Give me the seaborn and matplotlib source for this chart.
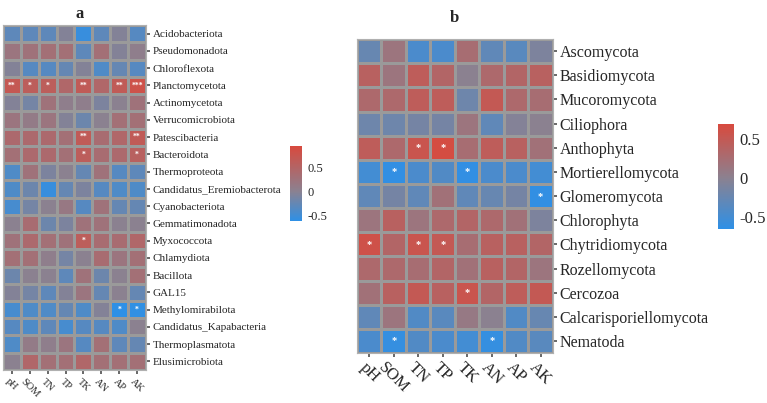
#Heatmaps de correlação: bactérias (a) e fungos/eucariotos (b) x variáveis do solo

#Imports
import numpy as np
import pandas as pd
import matplotlib
matplotlib.use('Agg')
import matplotlib.pyplot as plt
import seaborn as sns
from matplotlib.colors import LinearSegmentedColormap

#Dados
variaveis = ['pH', 'SOM', 'TN', 'TP', 'TK', 'AN', 'AP', 'AK']

bacterias = ['Acidobacteriota', 'Pseudomonadota', 'Chloroflexota', 'Planctomycetota',
             'Actinomycetota', 'Verrucomicrobiota', 'Patescibacteria', 'Bacteroidota',
             'Thermoproteota', 'Candidatus_Eremiobacterota', 'Cyanobacteriota',
             'Gemmatimonadota', 'Myxococcota', 'Chlamydiota', 'Bacillota', 'GAL15',
             'Methylomirabilota', 'Candidatus_Kapabacteria', 'Thermoplasmatota',
             'Elusimicrobiota']

corr_a = [
    [-0.30, -0.30, -0.30, -0.05, -0.55, -0.30, -0.05, -0.35],
    [ 0.20,  0.25,  0.30,  0.30, -0.30,  0.30, -0.05,  0.05],
    [-0.05, -0.35, -0.35, -0.25, -0.05, -0.40, -0.25, -0.35],
    [ 0.70,  0.60,  0.60,  0.45,  0.65,  0.45,  0.65,  0.80],
    [-0.05, -0.15,  0.25,  0.05,  0.05, -0.10,  0.00,  0.25],
    [ 0.20,  0.10,  0.20, -0.05, -0.20,  0.00,  0.30,  0.30],
    [ 0.40,  0.40,  0.40,  0.30,  0.65,  0.35,  0.45,  0.65],
    [ 0.30,  0.40,  0.40,  0.30,  0.60,  0.35,  0.40,  0.55],
    [-0.40,  0.25, -0.10,  0.00, -0.25,  0.25, -0.35, -0.30],
    [-0.40, -0.20, -0.55, -0.25, -0.10, -0.35, -0.40, -0.40],
    [-0.45, -0.15,  0.00,  0.15, -0.35,  0.25, -0.25, -0.25],
    [ 0.00,  0.35, -0.20, -0.10,  0.25,  0.25,  0.00,  0.00],
    [ 0.25,  0.40,  0.30,  0.25,  0.60,  0.35,  0.35,  0.45],
    [ 0.30,  0.30,  0.05, -0.15,  0.00,  0.35,  0.20,  0.30],
    [-0.20,  0.00,  0.00, -0.30,  0.25, -0.20,  0.00,  0.30],
    [-0.05, -0.15, -0.30, -0.05,  0.20, -0.25,  0.00, -0.25],
    [-0.45, -0.40, -0.40, -0.25, -0.40, -0.05, -0.62, -0.60],
    [-0.35, -0.40, -0.30, -0.45, -0.35, -0.35, -0.40,  0.00],
    [-0.40,  0.10,  0.05,  0.20, -0.35,  0.30, -0.30, -0.25],
    [ 0.00,  0.45,  0.30,  0.30,  0.45,  0.30,  0.30,  0.30],
]

sig_a = [
    ['', '', '', '', '', '', '', ''],
    ['', '', '', '', '', '', '', ''],
    ['', '', '', '', '', '', '', ''],
    ['**', '*', '*', '', '**', '', '**', '***'],
    ['', '', '', '', '', '', '', ''],
    ['', '', '', '', '', '', '', ''],
    ['', '', '', '', '**', '', '', '**'],
    ['', '', '', '', '*', '', '', '*'],
    ['', '', '', '', '', '', '', ''],
    ['', '', '', '', '', '', '', ''],
    ['', '', '', '', '', '', '', ''],
    ['', '', '', '', '', '', '', ''],
    ['', '', '', '', '*', '', '', ''],
    ['', '', '', '', '', '', '', ''],
    ['', '', '', '', '', '', '', ''],
    ['', '', '', '', '', '', '', ''],
    ['', '', '', '', '', '', '*', '*'],
    ['', '', '', '', '', '', '', ''],
    ['', '', '', '', '', '', '', ''],
    ['', '', '', '', '', '', '', ''],
]

fungos = ['Ascomycota', 'Basidiomycota', 'Mucoromycota', 'Ciliophora', 'Anthophyta',
          'Mortierellomycota', 'Glomeromycota', 'Chlorophyta', 'Chytridiomycota',
          'Rozellomycota', 'Cercozoa', 'Calcarisporiellomycota', 'Nematoda']

corr_b = [
    [-0.25,  0.15, -0.45, -0.45,  0.25, -0.30, -0.35, -0.10],
    [ 0.40,  0.15,  0.45,  0.35,  0.00,  0.30,  0.35,  0.40],
    [ 0.30,  0.30,  0.45,  0.45, -0.20,  0.50,  0.30,  0.25],
    [-0.20, -0.20, -0.15, -0.15,  0.15, -0.30, -0.05,  0.00],
    [ 0.45,  0.30,  0.55,  0.65,  0.25,  0.45,  0.40,  0.20],
    [-0.50, -0.62, -0.45, -0.40, -0.62, -0.45, -0.45, -0.50],
    [-0.30, -0.15, -0.30,  0.20, -0.30, -0.25, -0.15, -0.62],
    [ 0.15,  0.40,  0.15,  0.30,  0.35,  0.30,  0.20, -0.10],
    [ 0.60,  0.35,  0.55,  0.50,  0.25,  0.40,  0.40,  0.35],
    [ 0.30,  0.30,  0.25,  0.35,  0.20,  0.40,  0.35,  0.15],
    [ 0.20,  0.40,  0.50,  0.40,  0.55,  0.35,  0.45,  0.50],
    [-0.30,  0.15, -0.40, -0.35,  0.10,  0.00, -0.40, -0.25],
    [-0.45, -0.60, -0.40, -0.45, -0.50, -0.60, -0.40, -0.35],
]

sig_b = [
    ['', '', '', '', '', '', '', ''],
    ['', '', '', '', '', '', '', ''],
    ['', '', '', '', '', '', '', ''],
    ['', '', '', '', '', '', '', ''],
    ['', '', '*', '*', '', '', '', ''],
    ['', '*', '', '', '*', '', '', ''],
    ['', '', '', '', '', '', '', '*'],
    ['', '', '', '', '', '', '', ''],
    ['*', '', '*', '*', '', '', '', ''],
    ['', '', '', '', '', '', '', ''],
    ['', '', '', '', '*', '', '', ''],
    ['', '', '', '', '', '', '', ''],
    ['', '*', '', '', '', '*', '', ''],
]

df_a = pd.DataFrame(corr_a, index = bacterias, columns = variaveis)
df_b = pd.DataFrame(corr_b, index = fungos, columns = variaveis)

#Estilo
sns.set_theme(style = 'white')
plt.rcParams['font.family'] = ['Liberation Serif', 'DejaVu Serif']

def make_cmap(vmin, vmax):
    #cinza no zero, azul no mínimo, vermelho no máximo
    meio = -vmin / (vmax - vmin)
    return LinearSegmentedColormap.from_list('azul_vermelho',
                                             [(0, '#2e90e6'), (meio, '#8b8190'), (1, '#d84a3e')])

fig = plt.figure(figsize = (7.67, 4.03), dpi = 100)
ax_a = fig.add_axes([0.0039, 0.0819, 0.1864, 0.856])
cax_a = fig.add_axes([0.378, 0.4516, 0.0156, 0.186])
ax_b = fig.add_axes([0.4654, 0.124, 0.2555, 0.779])
cax_b = fig.add_axes([0.936, 0.432, 0.0209, 0.2605])

#Heatmap a
sns.heatmap(df_a, ax = ax_a, cbar_ax = cax_a, cmap = make_cmap(-0.62, 0.94), vmin = -0.62, vmax = 0.94,
            annot = np.array(sig_a), fmt = '', annot_kws = {'color': 'white', 'fontsize': 5.5,
                                                            'fontweight': 'bold'},
            linewidths = 0.8, linecolor = '#9a9a9a', cbar_kws = {'ticks': [-0.5, 0, 0.5]})

#Heatmap b
sns.heatmap(df_b, ax = ax_b, cbar_ax = cax_b, cmap = make_cmap(-0.65, 0.69), vmin = -0.65, vmax = 0.69,
            annot = np.array(sig_b), fmt = '', annot_kws = {'color': 'white', 'fontsize': 7.5,
                                                            'fontweight': 'bold'},
            linewidths = 0.8, linecolor = '#9a9a9a', cbar_kws = {'ticks': [-0.5, 0, 0.5]})

for ax, fs_y, fs_x in [(ax_a, 8, 7.5), (ax_b, 11.5, 12)]:
    ax.yaxis.tick_right()
    ax.tick_params(axis = 'y', rotation = 0, labelsize = fs_y, length = 3, color = '#555555',
                   left = False, right = True, pad = 2)
    ax.tick_params(axis = 'x', labelsize = fs_x, length = 3, color = '#555555', bottom = True, pad = 2)
    plt.setp(ax.get_xticklabels(), rotation = -45, ha = 'center', va = 'top')
    ax.set_xlabel('')
    ax.set_ylabel('')
    for s in ax.spines.values():
        s.set_visible(True)
        s.set_color('#b0b0b0')
        s.set_linewidth(0.8)

for cax, fs in [(cax_a, 9), (cax_b, 12)]:
    cax.tick_params(labelsize = fs, length = 3, color = 'white', width = 1, pad = 1)
    cax.yaxis.set_ticklabels(['-0.5', '0', '0.5'])
    for s in cax.spines.values():
        s.set_visible(False)

fig.text(0.104, 0.965, 'a', fontsize = 12, fontweight = 'bold', ha = 'center', va = 'center')
fig.text(0.593, 0.955, 'b', fontsize = 12, fontweight = 'bold', ha = 'center', va = 'center')

plt.savefig('out.png', dpi = 100)
